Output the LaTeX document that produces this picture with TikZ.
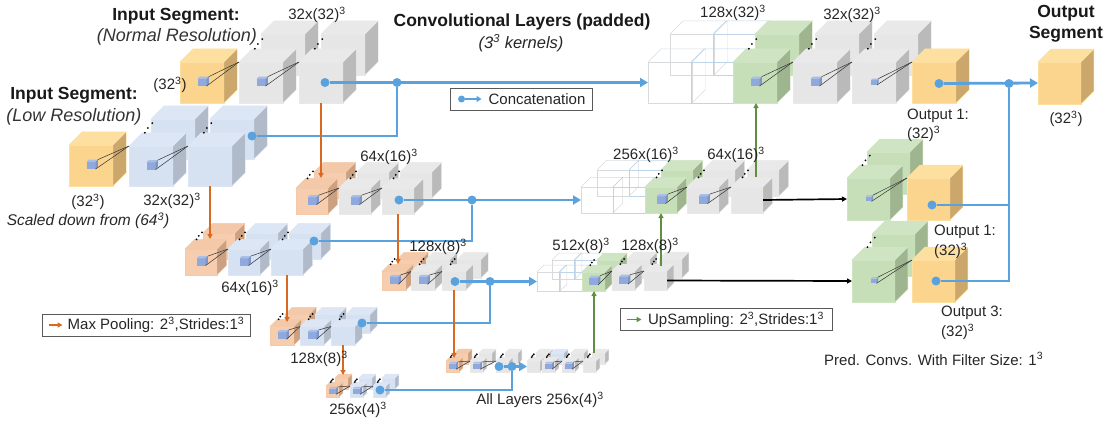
\documentclass[tikz,border=0pt]{standalone}
\usepackage{fontspec}
\setmainfont{Liberation Sans}
\usetikzlibrary{arrows.meta,positioning}

\definecolor{goldf}{HTML}{FBD48E}\definecolor{goldt}{HTML}{FDDF9F}\definecolor{golds}{HTML}{CBA76B}
\definecolor{grayf}{HTML}{E6E6E6}\definecolor{grayt}{HTML}{E9E9E9}\definecolor{grays}{HTML}{BABABA}
\definecolor{bluef}{HTML}{D6E1F1}\definecolor{bluet}{HTML}{DDE6F4}\definecolor{blues}{HTML}{B0BAC9}
\definecolor{orngf}{HTML}{F6CDAE}\definecolor{orngt}{HTML}{F4C9A9}\definecolor{orngs}{HTML}{CCA182}
\definecolor{grnf}{HTML}{C6DFB8}\definecolor{grnt}{HTML}{CFE4C2}\definecolor{grns}{HTML}{9FB590}
\definecolor{kernf}{HTML}{8FA9DC}\definecolor{kernt}{HTML}{AABDE5}\definecolor{kerns}{HTML}{7D95C7}
\definecolor{wirea}{HTML}{D8DBDE}\definecolor{wireb}{HTML}{BDD4E9}
\definecolor{concat}{HTML}{5AA2DE}\definecolor{pool}{HTML}{D9691F}\definecolor{upsamp}{HTML}{5F8F3F}

\tikzset{
    face/.style={rectangle,inner sep=0pt,outer sep=0pt},
    lab/.style={inner sep=0pt,text=black!85,font=\fontsize{15}{18}\selectfont},
    labl/.style={lab,anchor=west},
    headb/.style={inner sep=0pt,text=black!90,font=\fontsize{17.5}{21}\selectfont\bfseries},
    headi/.style={inner sep=0pt,text=black!80,font=\fontsize{18}{21}\selectfont\itshape},
    joint/.style={circle,fill=concat,inner sep=0pt,minimum size=9pt},
    cline/.style={concat,line width=2.8pt},
    carrow/.style={cline,-{Triangle[length=8pt,width=9pt]}},
    poolarrow/.style={pool,line width=1.8pt,-{Triangle[length=5pt,width=5pt]}},
    uparrow/.style={upsamp,line width=1.9pt,-{Triangle[length=5pt,width=5pt]}},
    blackarrow/.style={black,line width=1.7pt,-{Triangle[length=5pt,width=5pt]}},
    legendbox/.style={draw=black!65,line width=.9pt,inner sep=0pt,minimum height=22pt,text=black!85,font=\fontsize{15}{18}\selectfont},
}

% size of the layers that follow: width, height, offset of the back cube
\newcommand{\setlayer}[4]{\def\lw{#1}\def\lh{#2}\def\bdx{#3}\def\bdy{#4}\pgfmathsetmacro\ld{.3*#1}}
% name, left, bottom, colour
\newcommand{\layercube}[4]{
    \node[face,fill=#4f,draw=#4t,minimum width=\lw pt,minimum height=\lh pt] (#1) at ({#2+\lw/2},{#3-\lh/2}) {};
    \filldraw[#4t] (#1.north west) -- ++(\ld,-\ld) -- ([shift={(\ld,-\ld)}]#1.north east) -- (#1.north east) -- cycle;
    \filldraw[#4s,draw=#4t] (#1.north east) -- ++(\ld,-\ld) -- ([shift={(\ld,-\ld)}]#1.south east) -- (#1.south east) -- cycle;
}
\newcommand{\layerdots}[1]{
    \fill[black] ([shift={({.36*\lw},{-.3*\lw})}]#1.north west) circle (1pt);
    \fill[black] ([shift={({.43*\lw},{-.41*\lw})}]#1.north west) circle (1pt);
    \fill[black] ([shift={({.53*\lw},{-.52*\lw})}]#1.north west) circle (1pt);
}
\newcommand{\layerstack}[4]{
    \layercube{#1b}{#2+\bdx}{#3-\bdy}{#4}
    \layercube{#1}{#2}{#3}{#4}
    \layerdots{#1}
}
% outline only
\newcommand{\layerwire}[4]{
    \foreach \off/\nm in {1/b,0/} {
    \node[face,draw=#4,minimum width=\lw pt,minimum height=\lh pt] (#1\nm) at ({#2+\off*\bdx+\lw/2},{#3-\off*\bdy-\lh/2}) {};
    \draw[#4] (#1\nm.north west) -- ++(\ld,-\ld) -- ([shift={(\ld,-\ld)}]#1\nm.north east) -- (#1\nm.north east);
    \draw[#4] ([shift={(\ld,-\ld)}]#1\nm.north east) -- ([shift={(\ld,-\ld)}]#1\nm.south east) -- (#1\nm.south east);
    }
}
% small cube inside #2, tied to the corner of #3
\newcommand{\kernel}[3][9]{
    \node[face,fill=kernf,minimum width=#1 pt,minimum height=.8*#1 pt] (#2k) at (#2.center) {};
    \fill[kernt] (#2k.north west) -- ++(.25*#1,-.25*#1) -- ([shift={(.25*#1,-.25*#1)}]#2k.north east) -- (#2k.north east) -- cycle;
    \fill[kerns] (#2k.north east) -- ++(.25*#1,-.25*#1) -- ([shift={(.25*#1,-.25*#1)}]#2k.south east) -- (#2k.south east) -- cycle;
    \draw[black!80,line width=.5pt] ([shift={(.25*#1,-.25*#1)}]#2k.north east) -- (#3.north west);
    \draw[black!80,line width=.5pt] (#2k.south east) -- (#3.north west);
}

\begin{document}
\begin{tikzpicture}[x=1pt,y=-1pt]
    \useasboundingbox (0,0) rectangle (1109,421);

    % input, normal resolution
    \setlayer{44}{41}{22}{28}
    \layercube{inN}{180}{103}{gold}
    \layerstack{cN1}{239}{103}{gray}
    \layerstack{cN2}{299}{103}{gray}
    \kernel{inN}{cN1}
    \kernel{cN1}{cN2}

    % input, low resolution
    \layercube{inL}{69}{186}{gold}
    \setlayer{44}{40}{22}{27}
    \layerstack{bL1}{129}{186}{blue}
    \layerstack{bL2}{188}{186}{blue}
    \kernel{inL}{bL1}
    \kernel{bL1}{bL2}

    % second level
    \setlayer{32}{26}{18}{16}
    \layerstack{pA}{296}{214}{orng}
    \layerstack{cM1}{339}{214}{gray}
    \layerstack{cM2}{382}{214}{gray}
    \kernel{pA}{cM1}
    \kernel{cM1}{cM2}

    \layerstack{pB}{185}{275}{orng}
    \layerstack{bM1}{228}{275}{blue}
    \layerstack{bM2}{271}{275}{blue}
    \kernel{pB}{bM1}
    \kernel{bM1}{bM2}

    % third level
    \setlayer{24}{18.5}{15}{12}
    \layerstack{pC}{382}{290}{orng}
    \layerstack{cS1}{411}{290}{gray}
    \layerstack{cS2}{442}{290}{gray}
    \kernel{pC}{cS1}
    \kernel{cS1}{cS2}

    \layerstack{pD}{270}{345}{orng}
    \layerstack{bS1}{300}{345}{blue}
    \layerstack{bS2}{331}{345}{blue}
    \kernel{pD}{bS1}
    \kernel{bS1}{bS2}

    % bottom level
    \setlayer{13}{11}{9}{8}
    \layerstack{pE}{326}{397}{orng}
    \layerstack{bT1}{350}{397}{blue}
    \layerstack{bT2}{373}{397}{blue}
    \kernel[7]{pE}{bT1}
    \kernel[7]{bT1}{bT2}

    \layerstack{pF}{446}{372}{orng}
    \layerstack{cT1}{470}{372}{gray}
    \layerstack{cT2}{496}{372}{gray}
    \kernel[7]{pF}{cT1}
    \kernel[7]{cT1}{cT2}

    \layerstack{cU1}{527}{372}{gray}
    \layercube{cU2b}{551}{364}{blue}
    \layercube{cU2}{542}{372}{gray}
    \layerdots{cU2}
    \layerstack{cU3}{562}{372}{gray}
    \layerstack{cU4}{583}{372}{gray}
    \kernel[7]{cU2}{cU3}
    \kernel[7]{cU3}{cU4}

    % decoder, third level
    \setlayer{23}{19}{15}{12}
    \layerwire{wC1}{537}{291}{wirea}
    \layerwire{wC2}{559}{291}{wireb}
    \layerstack{gE}{582}{291}{grn}
    \layerstack{cR5}{612}{290}{gray}
    \layerstack{cR6}{644}{290}{gray}
    \kernel{gE}{cR5}
    \kernel{cR5}{cR6}

    % decoder, second level
    \setlayer{32}{26}{16}{17}
    \layerwire{wB1}{581}{213}{wirea}
    \layerwire{wB2}{613}{213}{wireb}
    \layerstack{gD}{645}{213}{grn}
    \layerstack{cR3}{687}{213}{gray}
    \layerstack{cR4}{731}{213}{gray}
    \kernel{gD}{cR3}
    \kernel{cR3}{cR4}

    % decoder, top level
    \setlayer{44}{41}{22}{28}
    \layerwire{wA1}{648}{103}{wirea}
    \layerwire{wA2}{691}{103}{wireb}
    \layerstack{gA}{733}{103}{grn}
    \layerstack{cR1}{793}{103}{gray}
    \layerstack{cR2}{852}{103}{gray}
    \layercube{outA}{912}{103}{gold}
    \kernel{gA}{cR1}
    \kernel{cR1}{cR2}
    \kernel[6]{cR2}{outA}

    % prediction branches
    \setlayer{43}{42}{20}{26}
    \layerstack{gB}{847}{220}{grn}
    \layercube{outB}{907}{220}{gold}
    \kernel[6]{gB}{outB}
    \layerstack{gC}{852}{302}{grn}
    \layercube{outC}{912}{302}{gold}
    \kernel[6]{gC}{outC}

    \layercube{outF}{1038}{104}{gold}

    % concatenation lines
    \node[joint] (d1) at (325,82.5) {};
    \node[joint] (j1) at (397,82.5) {};
    \node[joint] (d1l) at (252,136) {};
    \draw[carrow] (d1) -- (wA1.west);
    \draw[cline] (d1l) -| (j1);

    \node[joint] (d2) at (399,200) {};
    \node[joint] (j2) at (472,200) {};
    \node[joint] (d2l) at (314,241) {};
    \draw[carrow] (d2) -- (wB1.west);
    \draw[cline] (d2l) -| (j2);

    \node[joint] (d3) at (455,281.5) {};
    \node[joint] (j3) at (490,281.5) {};
    \node[joint] (d3l) at (362,323) {};
    \draw[carrow] (d3) -- (wC1.west);
    \draw[cline] (d3l) -| (j3);

    \node[joint] (d4) at (499,366.5) {};
    \node[joint] (j4) at (512,366.5) {};
    \node[joint] (d4l) at (380,390) {};
    \draw[carrow] (d4) -- (cU1.west);
    \draw[cline] (d4l) -| (j4);

    \node[joint] (dA) at (939,83.5) {};
    \node[joint] (jA) at (1009,83.5) {};
    \node[joint] (dB) at (932,205) {};
    \node[joint] (dC) at (936,281) {};
    \draw[carrow] (dA) -- (outF.west);
    \draw[cline] (dB) -| (jA);
    \draw[cline] (dC) -| (jA);

    % pooling
    \coordinate (pA1) at (321,178);
    \coordinate (pB1) at (210,239);
    \coordinate (pC1) at (398,264);
    \coordinate (pD1) at (287,322);
    \coordinate (pE1) at (343,375);
    \coordinate (pF1) at (454,358);
    \draw[poolarrow] (cN2.south) -- (pA1);
    \draw[poolarrow] (bL2.south) -- (pB1);
    \draw[poolarrow] (cM2.south) -- (pC1);
    \draw[poolarrow] (bM2.south) -- (pD1);
    \draw[poolarrow] (bS2.south) -- (pE1);
    \draw[poolarrow] (cS2.south) -- (pF1);

    % upsampling
    \coordinate (uA0) at (756,177);
    \coordinate (uB0) at (661,266);
    \coordinate (uC0) at (594,353);
    \draw[uparrow] (uA0) -- (uA0 |- gA.south);
    \draw[uparrow] (uB0) -- (uB0 |- gD.south);
    \draw[uparrow] (uC0) -- (uC0 |- gE.south);

    % dense path to the prediction branches
    \draw[blackarrow] (cR4.east) -- (gB.west);
    \draw[blackarrow] (cR6.east) -- (gC.west);

    % legends
    \node[legendbox,minimum width=142pt] (legC) at (521,99) {\hspace{32pt}Concatenation};
    \node[joint,right=12pt of legC.west,anchor=center,minimum size=7pt] (legCd) {};
    \coordinate[right=32pt of legC.west] (legCe);
    \draw[cline,line width=2pt,-{Triangle[length=5pt,width=6pt]}] (legCd) -- (legCe);

    \node[legendbox,minimum width=208pt] (legP) at (146,325) {\hspace{20pt}Max Pooling: 2\textsuperscript{3},Strides:1\textsuperscript{3}};
    \coordinate[right=7pt of legP.west] (legPa);
    \coordinate[right=21pt of legP.west] (legPb);
    \draw[poolarrow] (legPa) -- (legPb);

    \node[legendbox,minimum width=212pt] (legU) at (726,319.5) {\hspace{20pt}UpSampling: 2\textsuperscript{3},Strides:1\textsuperscript{3}};
    \coordinate[right=7pt of legU.west] (legUa);
    \coordinate[right=22pt of legU.west] (legUb);
    \draw[uparrow] (legUa) -- (legUb);

    % texts
    \node[headb] (tN1) at (176,16) {Input Segment:};
    \node[headi] (tN2) at (177,37) {(Normal Resolution)};
    \node[headb] (tL1) at (74,95) {Input Segment:};
    \node[headi] (tL2) at (74,117) {(Low Resolution)};
    \node[headb] (tC1) at (522,22) {Convolutional Layers (padded)};
    \node[lab,font=\fontsize{16.5}{20}\selectfont\itshape] (tC2) at (521,43) {(3\textsuperscript{3} kernels)};
    \node[headb] (tO1) at (1066,13) {Output};
    \node[headb] (tO2) at (1066,34) {Segment};

    \node[lab] (s1) at (170,85) {(32\textsuperscript{3})};
    \node[lab] (s2) at (317,15) {32x(32)\textsuperscript{3}};
    \node[lab] (s3) at (88,202) {(32\textsuperscript{3})};
    \node[lab] (s4) at (172,201) {32x(32)\textsuperscript{3}};
    \node[lab,font=\fontsize{15.5}{18}\selectfont\itshape] (s5) at (88,221) {Scaled down from (64\textsuperscript{3})};
    \node[lab] (s6) at (389,157) {64x(16)\textsuperscript{3}};
    \node[lab] (s7) at (250,288) {64x(16)\textsuperscript{3}};
    \node[lab] (s8) at (438,247) {128x(8)\textsuperscript{3}};
    \node[lab] (s9) at (319,359) {128x(8)\textsuperscript{3}};
    \node[lab] (s10) at (358,410) {256x(4)\textsuperscript{3}};
    \node[lab] (s11) at (540,400) {All Layers 256x(4)\textsuperscript{3}};
    \node[lab] (s12) at (581,246) {512x(8)\textsuperscript{3}};
    \node[lab] (s13) at (650,246) {128x(8)\textsuperscript{3}};
    \node[lab] (s14) at (646,155) {256x(16)\textsuperscript{3}};
    \node[lab] (s15) at (736,155) {64x(16)\textsuperscript{3}};
    \node[lab] (s16) at (733,13) {128x(32)\textsuperscript{3}};
    \node[lab] (s17) at (852,15) {32x(32)\textsuperscript{3}};
    \node[lab] (s18) at (1066,119) {(32\textsuperscript{3})};

    \node[labl] (o1) at (907,116) {Output 1:};
    \node[labl] (o1s) at (907,134) {(32)\textsuperscript{3}};
    \node[labl] (o2) at (934,232) {Output 1:};
    \node[labl] (o2s) at (934,251) {(32)\textsuperscript{3}};
    \node[labl] (o3) at (941,313) {Output 3:};
    \node[labl] (o3s) at (941,332) {(32)\textsuperscript{3}};
    \node[labl] (pr) at (824,359) {Pred. Convs. With Filter Size: 1\textsuperscript{3}};

\end{tikzpicture}
\end{document}
